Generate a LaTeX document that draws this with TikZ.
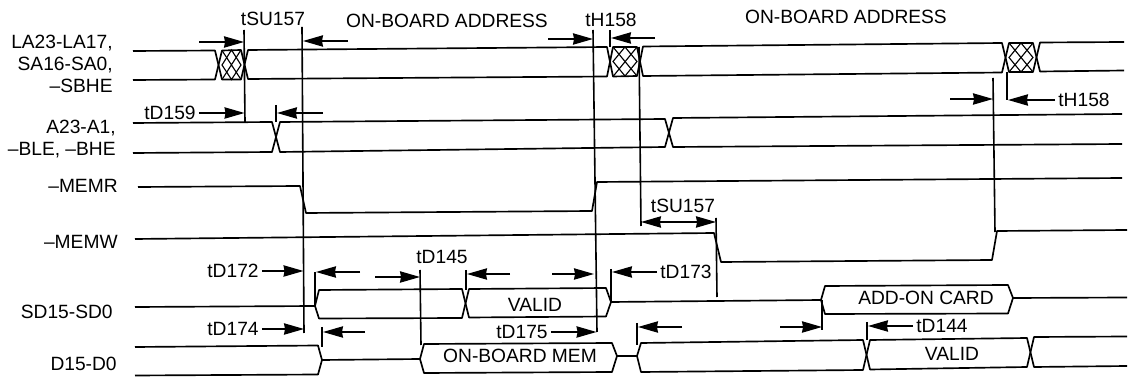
\documentclass[tikz,border=0pt]{standalone}
\usepackage{fontspec}
\setmainfont{Liberation Sans}
\usepackage{xcolor}
\usetikzlibrary{arrows.meta, positioning}
\tikzset{
    wave/.style={line width=1.25pt, line join=round},
    guide/.style={line width=1.2pt},
    hatch/.style={line width=0.85pt},
    gaparrow/.style={line width=1.1pt, -{Stealth[length=15pt, width=8.5pt, inset=0.8pt]}},
    gapboth/.style={line width=1.1pt, {Stealth[length=15pt, width=8.5pt, inset=0.8pt]}-{Stealth[length=15pt, width=8.5pt, inset=0.8pt]}},
    lbl/.style={inner sep=0pt, outer sep=2.5pt, font=\fontsize{14.4}{16.5}\selectfont},
    sig/.style={lbl, align=right, anchor=east}
}

\begin{document}
\begin{tikzpicture}[x=0.75pt, y=-0.75pt]
    \useasboundingbox (0,0) rectangle (1129,377);

    \node[sig] (la)   at (116,64)  {LA23-LA17,\\SA16-SA0,\\--SBHE};
    \node[sig] (a23)  at (119,139) {A23-A1,\\--BLE, --BHE};
    \node[sig] (memr) at (121,186) {--MEMR};
    \node[sig] (memw) at (121,242) {--MEMW};
    \node[sig] (sd)   at (116,312) {SD15-SD0};
    \node[sig] (d)    at (120,364) {D15-D0};

    \node[lbl] (tsua)  at (273,19)  {tSU157};
    \node[lbl] (addra) at (447,21)  {ON-BOARD ADDRESS};
    \node[lbl] (tha)   at (611,20)  {tH158};
    \node[lbl] (addrb) at (846,17)  {ON-BOARD ADDRESS};
    \node[lbl] (thb)   at (1084,100) {tH158};
    \node[lbl] (tdnine) at (170,113) {tD159};
    \node[lbl] (tdtwo) at (233,271) {tD172};
    \node[lbl] (tdfour) at (233,329) {tD174};
    \node[lbl] (tdfive) at (442,257) {tD145};
    \node[lbl] (tdsfive) at (522,332) {tD175};
    \node[lbl] (tdthree) at (686,272) {tD173};
    \node[lbl] (tsub)  at (683,206) {tSU157};
    \node[lbl] (tdaf)  at (942,326) {tD144};
    \node[lbl] (valida) at (535,305) {VALID};
    \node[lbl] (validb) at (952,354) {VALID};
    \node[lbl] (obmem) at (520,356) {ON-BOARD MEM};
    \node[lbl] (addon) at (926,298) {ADD-ON CARD};

    \draw[wave] (133,51) -- (215,50.5) -- (222,79.5) -- (241,79.5) -- (248,50) -- (607,47) -- (613,76.5) -- (637,76) -- (643,46.5) -- (1002,43) -- (1009,72) -- (1033,72) -- (1040,42.5) -- (1124,42);
    \draw[wave] (133,80) -- (215,79.5) -- (222,50.5) -- (241,50) -- (248,79) -- (607,76.5) -- (613,47) -- (637,47) -- (643,76) -- (1002,72.5) -- (1009,43) -- (1033,43) -- (1040,71.5) -- (1124,70.5);
    \draw[hatch] (222,50.5) -- (241,79.5) (241,50) -- (222,79.5);
    \draw[hatch] (231.5,50) -- (241,65) -- (231.5,79.5) -- (222,65) -- cycle;
    \draw[hatch] (613,47) -- (637,76) (637,47) -- (613,76.5);
    \draw[hatch] (625,47) -- (637,61.5) -- (625,76) -- (613,61.5) -- cycle;
    \draw[hatch] (1009,43) -- (1033,72) (1033,43) -- (1009,72);
    \draw[hatch] (1021,43) -- (1033,57.5) -- (1021,72) -- (1009,57.5) -- cycle;

    \draw[wave] (133,123) -- (272,122) -- (280,152) -- (665,147) -- (673,118) -- (1122,114);
    \draw[wave] (133,153) -- (272,152) -- (280,122) -- (665,119) -- (673,147) -- (1122,144);

    \draw[wave] (138,187) -- (300,186) -- (306,213) -- (592,211) -- (597,182) -- (1122,178);
    \draw[wave] (135,239) -- (714,233) -- (721,262) -- (992,260) -- (997,231) -- (1127,230);

    \draw[wave] (135,307) -- (315,306) -- (319,290) -- (462,289) -- (469,317.5) -- (606,316.5) -- (611,302) -- (821,300) -- (825,286) -- (1008,285) -- (1013,298) -- (1127,297.5);
    \draw[wave] (315,306) -- (319,318.5) -- (462,318) -- (469,289) -- (606,288) -- (611,302);
    \draw[wave] (821,300) -- (825,314) -- (1008,313.5) -- (1013,298);

    \draw[wave] (135,347) -- (318,345.5) -- (322,360) -- (420,359) -- (424,344) -- (612,343) -- (617,356) -- (637,356) -- (641,343) -- (863,340) -- (870,369.5) -- (1027,367) -- (1034,337) -- (1127,336.5);
    \draw[wave] (135,375.5) -- (318,374.5) -- (322,360);
    \draw[wave] (420,359) -- (424,373) -- (612,372) -- (617,356);
    \draw[wave] (637,356) -- (641,372) -- (863,370) -- (870,340) -- (1027,338) -- (1034,367) -- (1127,366);

    \draw[guide] (244,30) -- (245,122);
    \draw[guide] (302,27) -- (304,333);
    \draw[guide] (276,105) -- (276,122);
    \draw[guide] (593,30) -- (597,332);
    \draw[guide] (610,30) -- (610,47);
    \draw[guide] (639,47) -- (641,226);
    \draw[guide] (716,218) -- (717,297);
    \draw[guide] (993,78) -- (995,232);
    \draw[guide] (1007,72) -- (1007,100);
    \draw[guide] (420,270) -- (421,345);
    \draw[guide] (315,272) -- (315,306);
    \draw[guide] (466,270) -- (466,290);
    \draw[guide] (611,269) -- (611,302);
    \draw[guide] (322,327) -- (322,347);
    \draw[guide] (637,323) -- (637,345);
    \draw[guide] (822,300) -- (822,330);
    \draw[guide] (867,322) -- (867,340);

    \coordinate (aas) at (199,42);    \coordinate (aae) at (244,42);    \draw[gaparrow] (aas) -- (aae);
    \coordinate (abs) at (348,41);    \coordinate (abe) at (303,41);    \draw[gaparrow] (abs) -- (abe);
    \coordinate (ace) at (244.5,113); \draw[gaparrow] (tdnine) -- (ace);
    \coordinate (ads) at (323,113);   \coordinate (ade) at (277,113);   \draw[gaparrow] (ads) -- (ade);
    \coordinate (aes) at (548,39);    \coordinate (aee) at (593,39);    \draw[gaparrow] (aes) -- (aee);
    \coordinate (afs) at (655,38);    \coordinate (afe) at (611,38);    \draw[gaparrow] (afs) -- (afe);
    \coordinate (ags) at (950,99);    \coordinate (age) at (993,99);    \draw[gaparrow] (ags) -- (age);
    \coordinate (ahe) at (1008,100);  \draw[gaparrow] (thb) -- (ahe);
    \coordinate (aie) at (303.5,271); \draw[gaparrow] (tdtwo) -- (aie);
    \coordinate (ajs) at (360,272);   \coordinate (aje) at (316,272);   \draw[gaparrow] (ajs) -- (aje);
    \coordinate (ake) at (304,329);   \draw[gaparrow] (tdfour) -- (ake);
    \coordinate (als) at (365,332);   \coordinate (ale) at (323,332);   \draw[gaparrow] (als) -- (ale);
    \coordinate (ams) at (375,277);   \coordinate (ame) at (420,277);   \draw[gaparrow] (ams) -- (ame);
    \coordinate (ans) at (510,274);   \coordinate (ane) at (467,274);   \draw[gaparrow] (ans) -- (ane);
    \coordinate (aos) at (552,274);   \coordinate (aoe) at (594,274);   \draw[gaparrow] (aos) -- (aoe);
    \coordinate (ape) at (612,272);   \draw[gaparrow] (tdthree) -- (ape);
    \coordinate (aqe) at (596.5,332); \draw[gaparrow] (tdsfive) -- (aqe);
    \coordinate (ars) at (682,327);   \coordinate (are) at (638,327);   \draw[gaparrow] (ars) -- (are);
    \coordinate (ass) at (641,222);   \coordinate (ase) at (716,222);   \draw[gapboth] (ass) -- (ase);
    \coordinate (ats) at (780,327);   \coordinate (ate) at (822,327);   \draw[gaparrow] (ats) -- (ate);
    \coordinate (aue) at (868,326);   \draw[gaparrow] (tdaf) -- (aue);
\end{tikzpicture}
\end{document}
